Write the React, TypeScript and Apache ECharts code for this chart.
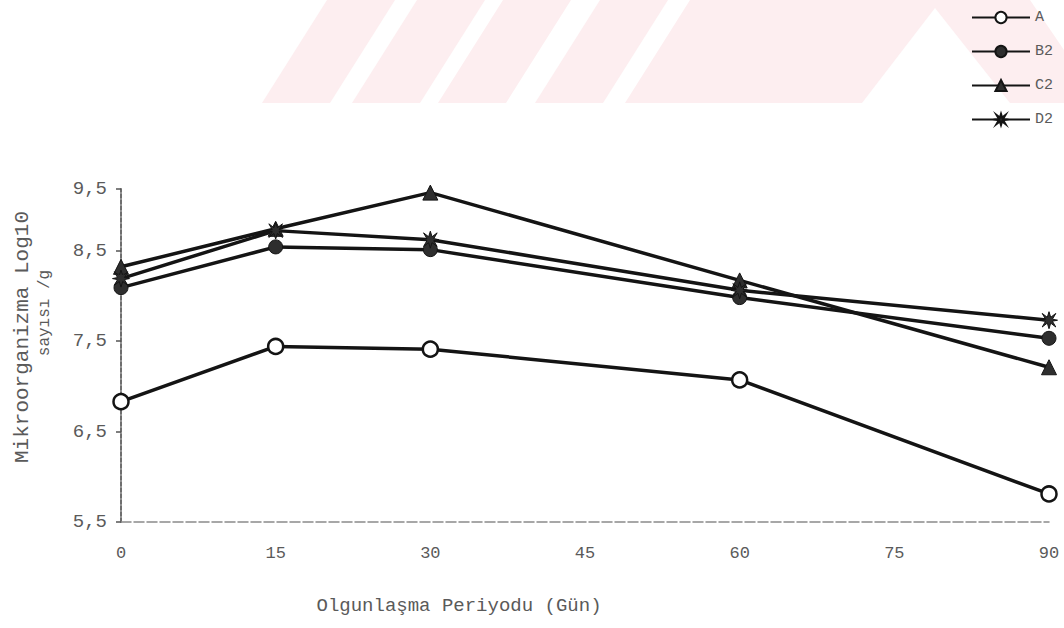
import React, { useEffect, useRef } from "react";
import * as echarts from "echarts";

// Ripening period (days) and microorganism counts (log10 cfu/g)
const DAYS = [0, 15, 30, 60, 90];
const SERIES_NAMES = ["A", "B2", "C2", "D2"];
const VALUES_A = [6.83, 7.44, 7.41, 7.07, 5.81];
const VALUES_B2 = [8.09, 8.54, 8.51, 7.98, 7.53];
const VALUES_C2 = [8.32, 8.74, 9.14, 8.17, 7.21];
const VALUES_D2 = [8.19, 8.72, 8.62, 8.06, 7.73];

const X_TICKS = { min: 0, max: 90, interval: 15 };
const Y_TICK_LABELS = ["5,5", "6,5", "7,5", "8,5", "9,5"];
const Y_MIN = 5.5;
const Y_TOP = 9.18;

const FONT = "'Liberation Mono', 'DejaVu Sans Mono', monospace";
const INK = "#141414";
const TEXT = "#5a5a5a";
const PINK = "#fdeef0";

const starPath =
  "path://M5,0 L6,3.3 L9,1 L7,4.4 L10,5 L7,5.6 L9,9 L6,6.7 L5,10 L4,6.7 L1,9 L3,5.6 L0,5 L3,4.4 L1,1 L4,3.3 Z";

function pairs(values: number[]) {
  return DAYS.map((d, i) => [d, values[i]]);
}

// Faint background stripes along the top of the page
function stripes() {
  const tops = [327, 417, 503, 600];
  const items: any[] = tops.map((t) => ({
    type: "polygon",
    z: -10,
    silent: true,
    shape: {
      points: [
        [t, 0],
        [t + 68, 0],
        [t + 3, 103],
        [t - 65, 103],
      ],
    },
    style: { fill: PINK },
  }));
  items.push({
    type: "polygon",
    z: -10,
    silent: true,
    shape: {
      points: [
        [690, 0],
        [1030, 0],
        [1064, 50],
        [1064, 103],
        [625, 103],
      ],
    },
    style: { fill: PINK },
  });
  items.push({
    type: "polygon",
    z: -9,
    silent: true,
    shape: {
      points: [
        [935, 8],
        [1010, 103],
        [862, 103],
      ],
    },
    style: { fill: "#ffffff" },
  });
  return items;
}

export default function App() {
  const ref = useRef<HTMLDivElement>(null);

  useEffect(() => {
    if (!ref.current) return;
    const chart = echarts.init(ref.current, undefined, { renderer: "svg" });

    const lineBase = {
      type: "line" as const,
      lineStyle: { color: INK, width: 3.5 },
      emphasis: { disabled: true },
    };

    chart.setOption({
      animation: false,
      backgroundColor: "#ffffff",
      grid: { left: 121, right: 15, top: 189, bottom: 106, containLabel: false },
      legend: {
        orient: "vertical",
        right: 6,
        top: 5,
        itemWidth: 58,
        itemHeight: 14,
        itemGap: 19,
        textStyle: { fontFamily: FONT, fontSize: 15, color: TEXT },
        data: SERIES_NAMES,
      },
      xAxis: {
        type: "value",
        min: X_TICKS.min,
        max: X_TICKS.max,
        interval: X_TICKS.interval,
        axisLine: {
          show: true,
          lineStyle: { color: "#8a8a8a", width: 1.5, type: [10, 3] },
        },
        axisTick: { show: false },
        splitLine: { show: false },
        axisLabel: {
          margin: 23,
          fontFamily: FONT,
          fontSize: 17,
          color: TEXT,
        },
      },
      yAxis: {
        type: "value",
        min: Y_MIN,
        max: Y_TOP,
        interval: 1,
        axisLine: {
          show: true,
          lineStyle: { color: "#6e6e6e", width: 2, type: [4, 2] },
        },
        axisTick: { show: true, length: 5, lineStyle: { color: "#555", width: 1.5 } },
        splitLine: { show: false },
        axisLabel: {
          margin: 14,
          fontFamily: FONT,
          fontSize: 19,
          color: TEXT,
          showMaxLabel: true,
          formatter: (_v: number, i: number) => Y_TICK_LABELS[i] ?? "",
        },
      },
      graphic: [
        ...stripes(),
        {
          type: "text",
          x: 22,
          y: 337,
          rotation: Math.PI / 2,
          style: {
            text: "Mikroorganizma Log10",
            fontFamily: FONT,
            fontSize: 21,
            fill: TEXT,
            align: "center",
            verticalAlign: "middle",
          },
        },
        {
          type: "text",
          x: 45,
          y: 313,
          rotation: Math.PI / 2,
          style: {
            text: "sayısı /g",
            fontFamily: FONT,
            fontSize: 16,
            fill: TEXT,
            align: "center",
            verticalAlign: "middle",
          },
        },
        {
          type: "text",
          x: 459,
          y: 606,
          style: {
            text: "Olgunlaşma Periyodu (Gün)",
            fontFamily: FONT,
            fontSize: 19,
            fill: TEXT,
            align: "center",
            verticalAlign: "middle",
          },
        },
      ],
      series: [
        {
          ...lineBase,
          name: "A",
          data: pairs(VALUES_A),
          symbol: "circle",
          symbolSize: 15,
          itemStyle: { color: "#ffffff", borderColor: INK, borderWidth: 2.5 },
          z: 5,
        },
        {
          ...lineBase,
          name: "B2",
          data: pairs(VALUES_B2),
          symbol: "circle",
          symbolSize: 14,
          itemStyle: { color: "#2e2e2e", borderColor: INK, borderWidth: 1 },
        },
        {
          ...lineBase,
          name: "C2",
          data: pairs(VALUES_C2),
          symbol: "triangle",
          symbolSize: 15,
          itemStyle: { color: "#2e2e2e", borderColor: INK, borderWidth: 1 },
        },
        {
          ...lineBase,
          name: "D2",
          data: pairs(VALUES_D2),
          symbol: starPath,
          symbolSize: 17,
          itemStyle: { color: "#2e2e2e", borderColor: INK, borderWidth: 1 },
        },
      ],
    });

    return () => chart.dispose();
  }, []);

  return (
    <div
      ref={ref}
      style={{ position: "absolute", left: 0, top: 0, width: 1064, height: 628 }}
    />
  );
}
